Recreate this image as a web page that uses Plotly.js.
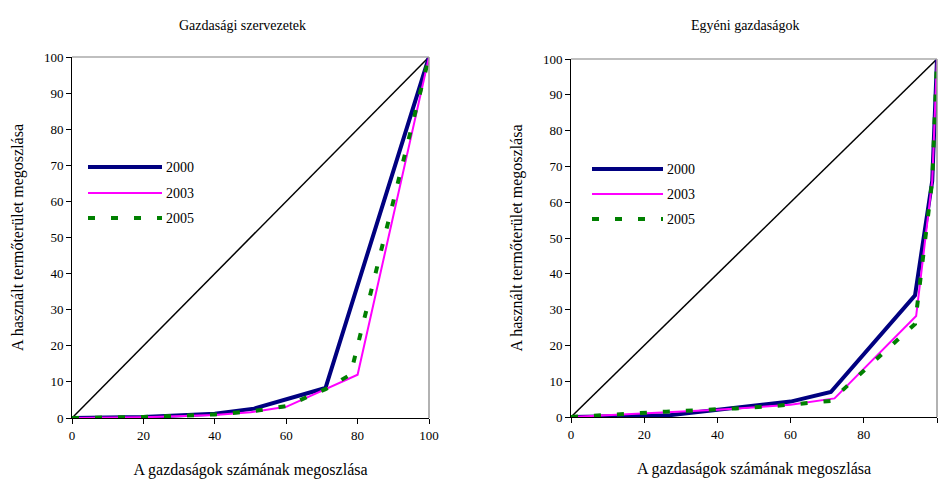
<!DOCTYPE html>
<html><head><meta charset="utf-8">
<script src="https://cdn.plot.ly/plotly-3.0.1.min.js"></script>
<style>html,body{margin:0;padding:0;background:#fff}#c{width:945px;height:479px}</style>
</head><body><div id="c"></div>
<script>
// Left chart: Gazdasági szervezetek
const leftTitle = "Gazdasági szervezetek";
const eqX = [0, 100];
const eqY = [0, 100];
const l2000x = [0, 10, 20, 40, 51, 71, 100];
const l2000y = [0, 0.1, 0.3, 1.2, 2.6, 8.3, 100];
const l2003x = [0, 10, 20, 40, 50, 60, 71, 80, 100];
const l2003y = [0, 0, 0.2, 0.8, 1.6, 3.1, 7.9, 12, 100];
const l2005x = [0, 10, 20, 40, 50, 60, 71, 78, 100];
const l2005y = [0, 0.1, 0.3, 1.0, 1.8, 3.3, 8.0, 12, 100];
// Right chart: Egyéni gazdaságok
const rightTitle = "Egyéni gazdaságok";
const r2000x = [0, 27, 60, 71, 94, 98.7, 100];
const r2000y = [0, 0.5, 4.3, 7.0, 34, 66, 100];
const r2003x = [0, 13, 26, 40, 60, 72, 94.3, 98.7, 100];
const r2003y = [0, 0.6, 1.2, 2.0, 3.4, 5.2, 28.2, 66, 100];
const r2005x = [0, 13, 26, 45, 57, 71, 94, 98.7, 100];
const r2005y = [0, 0.8, 1.5, 2.4, 3.2, 4.5, 26, 66, 100];
const seriesNames = ["2000", "2003", "2005"];
const xTitle = "A gazdaságok számának megoszlása";
const yTitle = "A használt termőterület megoszlása";

const F = "Liberation Serif";
const C = ["#000080", "#FF00FF", "#008000"];
const W = [4, 2, 4];
const D = ["solid", "solid", "7px,16px"];

function tr(x, y, i, ax) {
  return {x: x, y: y, type: "scatter", mode: "lines", name: seriesNames[i],
    xaxis: ax[0], yaxis: ax[1], showlegend: false,
    line: {color: C[i], width: W[i], dash: D[i]}};
}
function eq(ax) {
  return {x: eqX, y: eqY, type: "scatter", mode: "lines", xaxis: ax[0], yaxis: ax[1],
    showlegend: false, hoverinfo: "skip", line: {color: "#000", width: 1.5}};
}
const A1 = ["x", "y"], A2 = ["x2", "y2"];
const data = [
  eq(A1), tr(l2000x, l2000y, 0, A1), tr(l2003x, l2003y, 1, A1), tr(l2005x, l2005y, 2, A1),
  eq(A2), tr(r2000x, r2000y, 0, A2), tr(r2003x, r2003y, 1, A2), tr(r2005x, r2005y, 2, A2)
];

const PW = 945, PH = 479;
const px = v => v / PW, py = v => 1 - v / PH;

function xa(dom, anchor) {
  return {domain: dom, anchor: anchor, range: [0, 100], dtick: 20, tick0: 0,
    showgrid: false, zeroline: false, showline: true, linecolor: "#000", linewidth: 1,
    ticks: "outside", ticklen: 5, tickcolor: "#000",
    tickfont: {family: F, size: 13, color: "#000"},
    title: {text: xTitle, font: {family: F, size: 16, color: "#000"}, standoff: 22}};
}
function ya(dom, anchor) {
  return {domain: dom, anchor: anchor, range: [0, 100], dtick: 10, tick0: 0,
    showgrid: false, zeroline: false, showline: true, linecolor: "#000", linewidth: 1,
    ticks: "outside", ticklen: 5, tickcolor: "#000",
    tickfont: {family: F, size: 13, color: "#000"},
    title: {text: yTitle, font: {family: F, size: 16, color: "#000"}, standoff: 16}};
}

const L = {x0: 72, x1: 429, yt: 57, yb: 418};
const R = {x0: 571, x1: 937, yt: 59, yb: 417};

const shapes = [];
const annotations = [];
[L, R].forEach(b => {
  shapes.push({type: "line", xref: "paper", yref: "paper", x0: px(b.x0), x1: px(b.x1), y0: py(b.yt), y1: py(b.yt), line: {color: "#aaa", width: 1.5}});
  shapes.push({type: "line", xref: "paper", yref: "paper", x0: px(b.x1), x1: px(b.x1), y0: py(b.yt), y1: py(b.yb), line: {color: "#999", width: 1.5}});
});
// manual legends
const legs = [{x0: 88, x1: 162, ys: [167, 193, 218]}, {x0: 592, x1: 663, ys: [169, 194, 219]}];
legs.forEach(g => {
  g.ys.forEach((yy, i) => {
    shapes.push({type: "line", xref: "paper", yref: "paper", x0: px(g.x0), x1: px(g.x1), y0: py(yy), y1: py(yy),
      line: {color: C[i], width: W[i], dash: D[i]}});
    annotations.push({xref: "paper", yref: "paper", x: px(g.x1 + 2), y: py(yy), xanchor: "left", yanchor: "middle",
      showarrow: false, text: seriesNames[i], font: {family: F, size: 14, color: "#000"}});
  });
});
annotations.push({xref: "paper", yref: "paper", x: px(243), y: py(25), xanchor: "center", yanchor: "middle",
  showarrow: false, text: leftTitle, font: {family: F, size: 14, color: "#000"}});
annotations.push({xref: "paper", yref: "paper", x: px(745), y: py(25), xanchor: "center", yanchor: "middle",
  showarrow: false, text: rightTitle, font: {family: F, size: 14, color: "#000"}});

const layout = {
  width: PW, height: PH, margin: {l: 0, r: 0, t: 0, b: 0},
  paper_bgcolor: "#fff", plot_bgcolor: "#fff", showlegend: false,
  xaxis: xa([px(L.x0), px(L.x1)], "y"),
  yaxis: ya([1 - L.yb / PH, 1 - L.yt / PH], "x"),
  xaxis2: xa([px(R.x0), px(R.x1)], "y2"),
  yaxis2: ya([1 - R.yb / PH, 1 - R.yt / PH], "x2"),
  shapes: shapes, annotations: annotations
};
Plotly.newPlot("c", data, layout, {displayModeBar: false, staticPlot: true});
</script></body></html>
